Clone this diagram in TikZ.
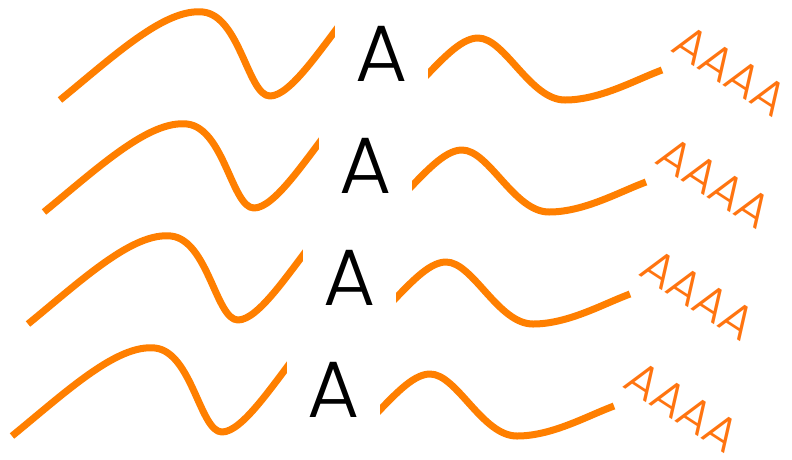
\documentclass[tikz,border=0pt]{standalone}
\usepackage{fontspec}
\usepackage{tikz}
\newfontfamily\basefont{Poppins Light}
\definecolor{strandorange}{HTML}{FF7F00}
\definecolor{tailorange}{HTML}{FF7410}

\begin{document}
\begin{tikzpicture}[x=1pt, y=-1pt,
  strand/.style={draw=strandorange, line width=7pt, line cap=butt, line join=round},
  base/.style={fill=white, inner sep=0pt, minimum width=93pt, minimum height=100pt, font=\basefont\fontsize{80}{80}\selectfont},
  polya/.style={text=tailorange, inner sep=0pt, rotate=-33, anchor=base west, font=\basefont\fontsize{48}{48}\selectfont}]
\useasboundingbox (0,0) rectangle (792,459);
% ===== four strands, each one shifted down and to the left =====
\foreach \i in {0,...,3} {
  \begin{scope}[shift={(-16*\i,112*\i)}]
    \draw[strand] (60,100) .. controls (115,55) and (165,8) .. (203,12)
      .. controls (240,16) and (248,96) .. (270,96)
      .. controls (290,96) and (320,50) .. (345,18)
      (420,82) .. controls (440,62) and (460,38) .. (478,38)
      .. controls (505,38) and (530,100) .. (565,100)
      .. controls (600,100) and (635,80) .. (662,70);
    \node[base] (a\i) at (381.5,53.5) {A};
    \node[polya] (tail\i) at (669,50) {AAAA};
  \end{scope}
}
\end{tikzpicture}
\end{document}
